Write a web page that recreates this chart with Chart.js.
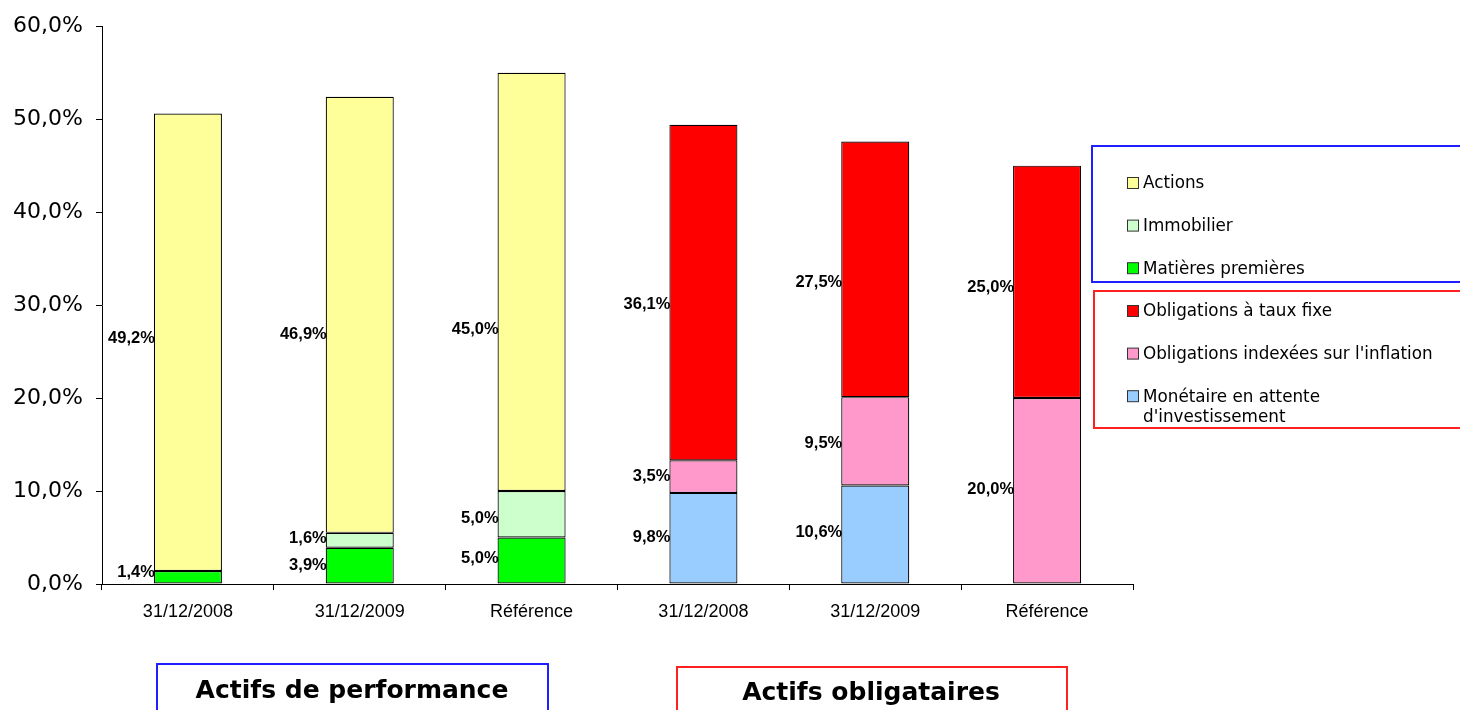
<!DOCTYPE html>
<html lang="fr">
<head>
<meta charset="utf-8">
<title>Allocation d'actifs</title>
<script src="https://cdn.jsdelivr.net/npm/chart.js@4.4.1/dist/chart.umd.min.js"></script>
<style>
  html, body { margin: 0; padding: 0; background: #fff; }
  canvas { display: block; }
</style>
</head>
<body>
<canvas id="chart" width="1460" height="710"></canvas>
<script>
// Categories (three for performance assets, three for bond assets)
const categories = ['31/12/2008', '31/12/2009', 'Référence', '31/12/2008', '31/12/2009', 'Référence'];

// Y axis tick values (percent)
const yTickValues = [0, 10, 20, 30, 40, 50, 60];

// Series values (percent), stacked bottom to top
const matieres   = [1.4, 3.9, 5.0, null, null, null];
const immobilier = [null, 1.6, 5.0, null, null, null];
const actions    = [49.2, 46.9, 45.0, null, null, null];
const monetaire  = [null, null, null, 9.8, 10.6, null];
const indexees   = [null, null, null, 3.5, 9.5, 20.0];
const tauxFixe   = [null, null, null, 36.1, 27.5, 25.0];

// Vertical anchor (in axis units) of each value label
const matieresLabelAt   = [1.23, 1.95, 2.79, null, null, null];
const immobilierLabelAt = [null, 4.9, 7.07, null, null, null];
const actionsLabelAt    = [26.46, 26.8, 27.43, null, null, null];
const monetaireLabelAt  = [null, null, null, 4.98, 5.59, null];
const indexeesLabelAt   = [null, null, null, 11.6, 15.16, 10.2];
const tauxFixeLabelAt   = [null, null, null, 30.1, 32.4, 31.86];

const fmtPct = v => v.toFixed(1).replace('.', ',') + '%';

function ds(label, data, color, labelAt, legendLines) {
  return {
    label, data, labelAt, legendLines,
    backgroundColor: color,
    borderColor: '#000',
    borderWidth: 1.2,
    borderSkipped: false,
    stack: 'all'
  };
}

const datasets = [
  ds('Matières premières', matieres, '#00FF00', matieresLabelAt),
  ds('Immobilier', immobilier, '#CCFFCC', immobilierLabelAt),
  ds('Actions', actions, '#FFFF99', actionsLabelAt),
  ds('Monétaire en attente d\'investissement', monetaire, '#99CCFF', monetaireLabelAt, ['Monétaire en attente', 'd\'investissement']),
  ds('Obligations indexées sur l\'inflation', indexees, '#FF99CC', indexeesLabelAt),
  ds('Obligations à taux fixe', tauxFixe, '#FF0000', tauxFixeLabelAt)
];

// Value labels drawn to the left of each bar segment
const valueLabels = {
  id: 'valueLabels',
  afterDatasetsDraw(chart) {
    const ctx = chart.ctx;
    const y = chart.scales.y;
    ctx.save();
    ctx.font = 'bold 16.5px "Liberation Sans", Arial, sans-serif';
    ctx.fillStyle = '#000';
    ctx.textAlign = 'right';
    ctx.textBaseline = 'middle';
    chart.data.datasets.forEach((d, di) => {
      const meta = chart.getDatasetMeta(di);
      d.data.forEach((v, i) => {
        if (v === null || v === undefined) return;
        const bar = meta.data[i];
        const at = d.labelAt && d.labelAt[i] != null ? d.labelAt[i] : null;
        const py = at != null ? y.getPixelForValue(at) : (bar.y + bar.base) / 2;
        ctx.fillText(fmtPct(v), bar.x - bar.width / 2 + 1, py);
      });
    });
    ctx.restore();
  }
};

// Two grouped legend boxes on the right, plus group captions below the axis
const groupDecor = {
  id: 'groupDecor',
  afterDraw(chart, args, opts) {
    const ctx = chart.ctx;
    const sets = chart.data.datasets;
    ctx.save();
    opts.groups.forEach(g => {
      ctx.lineWidth = 2;
      ctx.strokeStyle = g.border;
      ctx.strokeRect(g.box[0], g.box[1], g.box[2], g.box[3]);
      ctx.font = '16.8px "DejaVu Sans", Verdana, sans-serif';
      ctx.textAlign = 'left';
      ctx.textBaseline = 'middle';
      g.items.forEach((idx, k) => {
        const d = sets[idx];
        const cy = g.firstY + k * g.stepY;
        ctx.fillStyle = d.backgroundColor;
        ctx.fillRect(1127.5, cy - 5.5, 11, 11);
        ctx.lineWidth = 1;
        ctx.strokeStyle = '#333';
        ctx.strokeRect(1127.5, cy - 5.5, 11, 11);
        ctx.fillStyle = '#000';
        const lines = d.legendLines || [d.label];
        lines.forEach((ln, j) => ctx.fillText(ln, 1143, cy + 1 + j * 20));
      });
    });
    opts.captions.forEach(c => {
      ctx.lineWidth = 2;
      ctx.strokeStyle = c.border;
      ctx.strokeRect(c.box[0], c.box[1], c.box[2], c.box[3]);
      ctx.font = 'bold 25px "DejaVu Sans", Verdana, sans-serif';
      ctx.fillStyle = '#000';
      ctx.textAlign = 'center';
      ctx.textBaseline = 'middle';
      ctx.fillText(c.text, c.x, c.y);
    });
    ctx.restore();
  }
};

new Chart(document.getElementById('chart'), {
  type: 'bar',
  data: { labels: categories, datasets },
  plugins: [valueLabels, groupDecor],
  options: {
    responsive: false,
    animation: false,
    layout: { padding: { left: 0, top: 24, right: 327, bottom: 76 } },
    datasets: { bar: { categoryPercentage: 1, barPercentage: 0.396 } },
    plugins: {
      legend: { display: false },
      tooltip: { enabled: false },
      groupDecor: {
        groups: [
          { border: '#2020FF', box: [1092, 146, 400, 136], items: [2, 1, 0], firstY: 183, stepY: 42.6 },
          { border: '#FF2020', box: [1094, 291, 400, 137], items: [5, 4, 3], firstY: 311, stepY: 42.6 }
        ],
        captions: [
          { text: 'Actifs de performance', border: '#2020FF', box: [157, 664, 391, 60], x: 352, y: 691 },
          { text: 'Actifs obligataires', border: '#FF2020', box: [677, 667, 390, 60], x: 871, y: 693 }
        ]
      }
    },
    scales: {
      x: {
        stacked: true,
        grid: { display: true, drawOnChartArea: false, drawTicks: true, tickLength: 6, color: '#000', offset: true },
        border: { display: true, color: '#000', width: 1 },
        ticks: {
          color: '#000',
          padding: 11,
          maxRotation: 0,
          autoSkip: false,
          font: { family: '"Liberation Sans", Arial, sans-serif', size: 18 }
        },
        afterFit(scale) { scale.height = 50; }
      },
      y: {
        stacked: true,
        min: 0,
        max: 60,
        afterBuildTicks(scale) { scale.ticks = yTickValues.map(v => ({ value: v })); },
        grid: { display: true, drawOnChartArea: false, drawTicks: true, tickLength: 6, color: '#000' },
        border: { display: true, color: '#000', width: 1 },
        ticks: {
          color: '#000',
          padding: 13,
          callback: v => fmtPct(v),
          font: { family: '"DejaVu Sans", Verdana, sans-serif', size: 22 }
        },
        afterFit(scale) { scale.width = 102; }
      }
    }
  }
});
</script>
</body>
</html>
